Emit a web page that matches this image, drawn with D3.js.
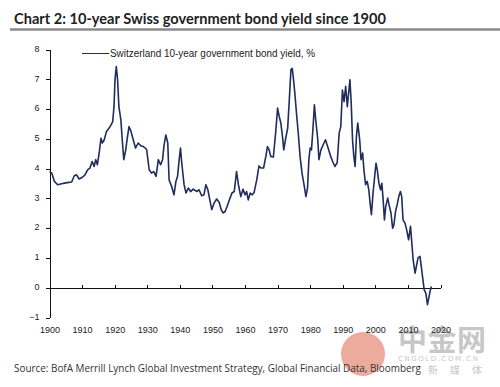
<!DOCTYPE html>
<html lang="en">
  <head>
    <meta charset="utf-8" />
    <title>Chart 2: 10-year Swiss government bond yield since 1900</title>
    <script type="text/javascript" src="https://d3js.org/d3.v7.min.js" charset="utf-8"></script>
    <style type="text/css">
      body { margin: 0; background: #fff; }
      .axis text {
        font-family: "Liberation Sans Narrow", "Arial Narrow", "Liberation Sans", sans-serif;
        font-size: 9px;
        fill: #222;
      }
      .axis path, .axis line { stroke: #111; shape-rendering: crispEdges; }
    </style>
  </head>
  <body>
    <script type="text/javascript">
      // chart data
      var years = [1900.0,1900.7,1901.5,1902.5,1903.7,1905.0,1906.8,1907.6,1908.3,1909.1,1910.1,1910.9,1911.7,1912.4,1913.1,1913.7,1914.2,1914.7,1915.3,1915.8,
        1916.2,1916.8,1917.5,1918.3,1918.9,1919.4,1919.8,1920.1,1920.5,1920.9,1921.3,1921.9,1922.4,1922.8,1923.4,1923.8,1924.4,1925.0,1925.7,1926.4,
        1927.2,1928.0,1928.8,1929.8,1930.6,1931.3,1932.0,1932.7,1933.4,1934.1,1934.7,1935.1,1935.7,1936.3,1936.7,1937.5,1938.2,1938.8,1939.3,1939.8,
        1940.2,1940.6,1941.3,1941.9,1942.6,1943.3,1944.1,1945.2,1945.9,1946.7,1947.4,1948.0,1948.6,1949.2,1949.8,1950.5,1951.3,1952.1,1952.7,1953.3,
        1953.9,1954.5,1955.4,1956.0,1956.7,1957.4,1958.0,1958.7,1959.4,1960.0,1960.5,1961.0,1961.6,1962.2,1962.8,1963.6,1964.3,1964.9,1965.7,1966.4,
        1966.9,1967.4,1967.9,1968.7,1969.4,1970.0,1970.5,1971.0,1971.5,1971.9,1972.5,1973.1,1973.6,1974.1,1974.5,1974.9,1975.3,1975.8,1976.3,1976.9,
        1977.5,1978.2,1978.7,1979.2,1979.6,1980.0,1980.4,1980.9,1981.3,1981.7,1982.3,1982.7,1983.3,1984.0,1984.7,1985.5,1986.3,1986.9,1987.6,1988.3,
        1988.9,1989.4,1989.9,1990.4,1990.9,1991.4,1991.8,1992.2,1992.6,1993.0,1993.4,1993.8,1994.2,1994.6,1995.2,1995.6,1996.1,1996.5,1997.0,1997.5,
        1998.0,1998.4,1998.8,1999.3,1999.8,2000.2,2000.6,2001.1,2001.6,2002.0,2002.4,2002.8,2003.2,2003.8,2004.2,2004.8,2005.3,2005.7,2006.2,2006.7,
        2007.2,2007.7,2008.1,2008.5,2009.1,2009.6,2010.2,2010.8,2011.2,2011.6,2012.2,2012.6,2013.1,2013.7,2014.1,2014.6,2015.0,2015.5,2016.0,2016.4,
        2016.8,2017.2];
      var yields = [3.90,3.85,3.57,3.46,3.49,3.52,3.55,3.76,3.79,3.65,3.71,3.79,3.96,4.02,4.24,4.07,4.30,4.13,4.57,5.02,
        4.86,4.97,5.25,5.36,5.47,5.58,6.08,6.98,7.43,6.98,6.08,5.64,4.86,4.30,4.63,4.97,5.41,5.25,4.97,4.69,
        4.86,4.77,4.74,4.65,3.96,3.85,3.90,3.74,4.30,4.13,4.30,4.74,5.13,4.86,3.62,3.40,3.12,3.57,3.74,4.30,
        4.69,4.18,3.46,3.18,3.35,3.23,3.31,3.23,3.29,3.09,3.12,3.46,3.29,2.95,2.62,2.84,2.98,2.86,2.62,2.51,
        2.56,2.73,3.01,3.18,3.23,3.90,3.45,3.06,3.31,3.12,3.23,2.95,3.18,3.12,3.20,3.62,4.09,4.02,4.02,4.41,
        4.74,4.63,4.41,4.39,5.19,6.03,5.75,5.53,5.08,4.63,5.02,5.36,6.31,7.32,7.37,6.98,6.53,5.86,5.25,4.41,
        3.85,3.40,3.06,3.35,4.30,4.69,4.63,5.41,6.14,5.64,5.02,4.30,4.63,4.80,4.97,4.69,4.41,4.24,4.07,4.20,
        5.19,5.41,6.64,6.25,6.76,6.08,6.53,6.98,6.20,4.97,4.41,4.07,5.08,5.53,4.97,4.30,4.52,3.96,3.46,3.57,
        3.29,2.84,2.45,3.18,3.74,4.18,3.96,3.51,3.29,3.51,2.95,2.28,2.73,3.01,2.79,2.51,2.00,2.11,2.56,2.79,
        3.06,3.23,3.06,2.28,2.17,1.95,1.61,2.06,1.50,0.94,0.49,0.72,1.00,1.05,0.72,0.27,-0.07,-0.18,-0.57,-0.35,
        -0.12,0.04];
      var xTicks = [1900,1910,1920,1930,1940,1950,1960,1970,1980,1990,2000,2010,2020];
      var yTicks = [-1,0,1,2,3,4,5,6,7,8];
      var titleText = "Chart 2: 10-year Swiss government bond yield since 1900";
      var seriesName = "Switzerland 10-year government bond yield, %";
      var sourceText = "Source: BofA Merrill Lynch Global Investment Strategy, Global Financial Data, Bloomberg";

      var W = 500, H = 387;
      var data = years.map((y, i) => ({ year: y, value: yields[i] }));

      const svg = d3.select("body").append("svg")
        .attr("width", W).attr("height", H);

      // title + grey rule
      svg.append("text")
        .attr("x", 14).attr("y", 24)
        .attr("font-family", "Lato, 'Open Sans', sans-serif")
        .attr("font-weight", "bold")
        .attr("font-size", 16)
        .attr("fill", "#222")
        .attr("textLength", 372)
        .attr("lengthAdjust", "spacingAndGlyphs")
        .text(titleText);
      svg.append("line")
        .attr("x1", 10).attr("x2", W).attr("y1", 29.5).attr("y2", 29.5)
        .attr("stroke", "#8a8a8a").attr("stroke-width", 2.5);

      // scales
      var x = d3.scaleLinear().domain([1900, 2020]).range([49.5, 440.5]);
      var y = d3.scaleLinear().domain([-1, 8]).range([317.5, 49.5]);

      // watermark (behind everything)
      var wm = svg.append("g").attr("opacity", 0.55);
      wm.append("circle").attr("cx", 363).attr("cy", 354).attr("r", 22).attr("fill", "#e0674e");
      wm.append("text").attr("x", 398).attr("y", 351)
        .attr("font-family", "'Noto Sans CJK SC', sans-serif").attr("font-weight", "bold")
        .attr("font-size", 29).attr("fill", "#9a9a9a").attr("textLength", 88)
        .text("中金网");
      wm.append("text").attr("x", 398).attr("y", 361)
        .attr("font-family", "'DejaVu Sans', sans-serif").attr("font-size", 7)
        .attr("fill", "#999").attr("textLength", 80).text("CNGOLD.COM.CN");
      wm.append("text").attr("x", 428).attr("y", 374)
        .attr("font-family", "'Noto Sans CJK SC', sans-serif").attr("font-size", 10)
        .attr("fill", "#999").attr("textLength", 54).text("新 媒 体");

      // axes
      const gY = svg.append("g").attr("class", "axis")
        .attr("transform", `translate(${x(1900)},0)`)
        .call(d3.axisLeft(y).tickValues(yTicks).tickSize(4).tickPadding(6).tickSizeOuter(0));
      gY.selectAll(".tick text").attr("dy", "0.2em");

      const gX = svg.append("g").attr("class", "axis")
        .attr("transform", `translate(0,${y(0)})`)
        .call(d3.axisTop(x).tickValues(xTicks).tickSize(3).tickFormat(d3.format("d")).tickSizeOuter(0));
      gX.selectAll(".tick text").attr("y", y(-1) - y(0) + 16).attr("dy", 0);

      // series line
      var line = d3.line().x(d => x(d.year)).y(d => y(d.value)).curve(d3.curveLinear);
      svg.append("path").datum(data)
        .attr("d", line)
        .attr("fill", "none")
        .attr("stroke", "#1f2c5c")
        .attr("stroke-width", 1.6)
        .attr("stroke-linejoin", "round");

      // legend
      svg.append("line")
        .attr("x1", 82).attr("x2", 109).attr("y1", 53.5).attr("y2", 53.5)
        .attr("stroke", "#1f2c5c").attr("stroke-width", 1);
      svg.append("text")
        .attr("x", 110).attr("y", 57)
        .attr("font-family", "'Liberation Sans Narrow', 'Arial Narrow', 'Liberation Sans', sans-serif")
        .attr("font-size", 10).attr("fill", "#222")
        .attr("textLength", 205).attr("lengthAdjust", "spacingAndGlyphs")
        .text(seriesName);

      // source
      svg.append("text")
        .attr("x", 14).attr("y", 372)
        .attr("font-family", "'Open Sans', 'Liberation Sans', sans-serif")
        .attr("font-size", 11).attr("fill", "#333")
        .attr("textLength", 407).attr("lengthAdjust", "spacingAndGlyphs")
        .text(sourceText);
    </script>
  </body>
</html>
